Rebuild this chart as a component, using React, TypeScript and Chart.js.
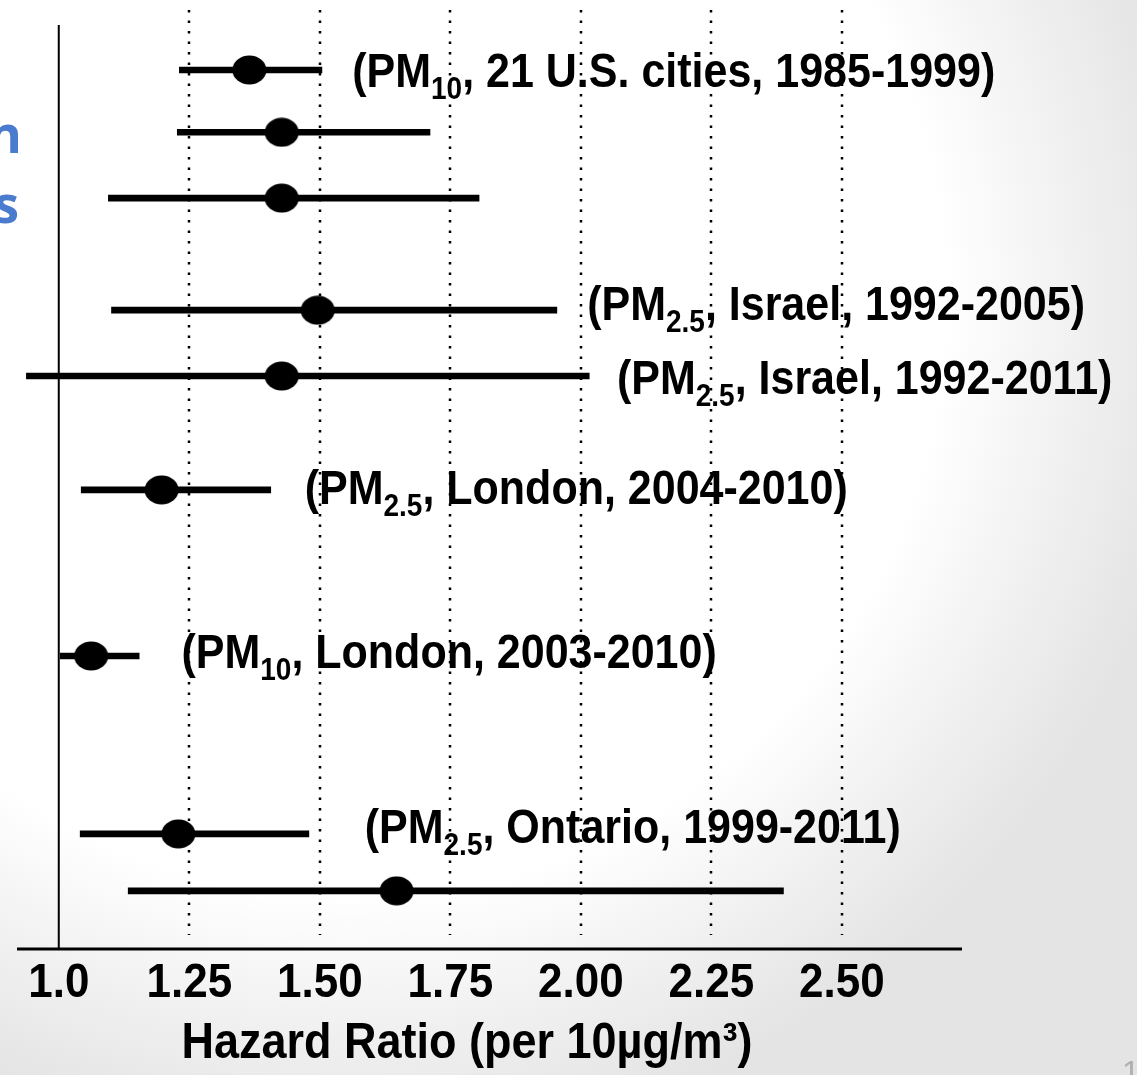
import React, { useEffect, useRef } from "react";
import { Chart, registerables } from "chart.js";

Chart.register(...registerables);

// ---------------- data ----------------
const hazardRatio = [1.365, 1.427, 1.427, 1.496, 1.427, 1.197, 1.062, 1.229, 1.647];
const ciLow = [1.231, 1.227, 1.095, 1.101, 0.938, 1.043, 1.003, 1.041, 1.133];
const ciHigh = [1.504, 1.711, 1.805, 1.954, 2.016, 1.406, 1.154, 1.479, 2.388];
const pollutant = ["10", "", "", "2.5", "2.5", "2.5", "10", "2.5", ""];
const studyDetail = [
  ", 21 U.S. cities, 1985-1999)",
  "",
  "",
  ", Israel, 1992-2005)",
  ", Israel, 1992-2011)",
  ", London, 2004-2010)",
  ", London, 2003-2010)",
  ", Ontario, 1999-2011)",
  "",
];
const tickValues = [1.0, 1.25, 1.5, 1.75, 2.0, 2.25, 2.5];
const tickLabels = ["1.0", "1.25", "1.50", "1.75", "2.00", "2.25", "2.50"];
const axisTitle = "Hazard Ratio (per 10µg/m³)";
const sideFragments = ["n", "s"];
const slideNumber = "1";

// ---------------- layout ----------------
const W = 1137;
const H = 1075;
const rowSlot = [1.18, 2.23, 3.34, 5.23, 6.34, 8.26, 11.06, 14.06, 15.02];
const labelStartHR = [1.562, null, null, 2.012, 2.069, 1.471, 1.235, 1.586, null];
const labelBaselineDy = [17, 0, 0, 10, 18, 14, 12, 9, 0];
const FONT = '"Liberation Sans", Arial, sans-serif';
const STRETCH = 1.1;

function makeEllipse(w: number, h: number): HTMLCanvasElement {
  const c = document.createElement("canvas");
  c.width = w;
  c.height = h;
  const g = c.getContext("2d")!;
  g.fillStyle = "#000";
  g.beginPath();
  g.ellipse(w / 2, h / 2, w / 2 - 0.5, h / 2 - 0.5, 0, 0, Math.PI * 2);
  g.fill();
  return c;
}

function drawStretched(ctx: CanvasRenderingContext2D, text: string, x: number, y: number, sy: number) {
  ctx.save();
  ctx.translate(x, y);
  ctx.scale(1, sy);
  ctx.fillText(text, 0, 0);
  ctx.restore();
}

export default function App() {
  const ref = useRef<HTMLCanvasElement>(null);

  useEffect(() => {
    document.body.style.margin = "0";
    const canvas = ref.current!;
    const marker = makeEllipse(35, 30);

    const decor = {
      id: "decor",
      beforeDraw(chart: any) {
        const ctx: CanvasRenderingContext2D = chart.ctx;
        ctx.save();
        const g = ctx.createRadialGradient(350, 300, 0, 350, 300, 850);
        g.addColorStop(0, "#ffffff");
        g.addColorStop(0.7, "#ffffff");
        g.addColorStop(0.85, "#f1f1f1");
        g.addColorStop(1, "#e4e4e4");
        ctx.fillStyle = g;
        ctx.fillRect(0, 0, W, H);
        ctx.restore();
      },
      beforeDatasetsDraw(chart: any) {
        const ctx: CanvasRenderingContext2D = chart.ctx;
        const xs = chart.scales.x;
        const ys = chart.scales.y;
        const area = chart.chartArea;
        ctx.save();
        ctx.fillStyle = "#000";
        ctx.textBaseline = "alphabetic";

        // study labels
        rowSlot.forEach((slot, i) => {
          const start = labelStartHR[i];
          if (start == null || !studyDetail[i]) return;
          let px = xs.getPixelForValue(start);
          const base = ys.getPixelForValue(slot) + labelBaselineDy[i];
          ctx.textAlign = "left";
          ctx.font = `bold 43px ${FONT}`;
          drawStretched(ctx, "(PM", px, base, STRETCH);
          px += ctx.measureText("(PM").width;
          ctx.font = `bold 28px ${FONT}`;
          drawStretched(ctx, pollutant[i], px, base + 12, STRETCH);
          px += ctx.measureText(pollutant[i]).width;
          ctx.font = `bold 43px ${FONT}`;
          drawStretched(ctx, studyDetail[i], px, base, STRETCH);
        });

        // dotted reference lines
        ctx.strokeStyle = "#000";
        ctx.lineWidth = 2.5;
        ctx.setLineDash([2.5, 8]);
        tickValues.forEach((v) => {
          if (v === 1) return;
          const px = Math.round(xs.getPixelForValue(v));
          ctx.beginPath();
          ctx.moveTo(px, 10);
          ctx.lineTo(px, 935);
          ctx.stroke();
        });
        ctx.setLineDash([]);

        // vertical line at HR = 1
        const x1 = xs.getPixelForValue(1);
        ctx.lineWidth = 2;
        ctx.beginPath();
        ctx.moveTo(x1, 25);
        ctx.lineTo(x1, area.bottom);
        ctx.stroke();

        // x axis
        ctx.lineWidth = 3;
        ctx.beginPath();
        ctx.moveTo(area.left, area.bottom);
        ctx.lineTo(area.right, area.bottom);
        ctx.stroke();

        // tick labels
        ctx.font = `bold 44px ${FONT}`;
        ctx.textAlign = "center";
        tickValues.forEach((v, i) => {
          drawStretched(ctx, tickLabels[i], xs.getPixelForValue(v), 997, STRETCH);
        });

        // axis title
        ctx.font = `bold 45px ${FONT}`;
        drawStretched(ctx, axisTitle, 467, 1058, STRETCH);

        // cut-off slide text on the left
        ctx.fillStyle = "#4a7bcf";
        ctx.textAlign = "right";
        ctx.font = `bold 52px "Open Sans", sans-serif`;
        ctx.fillText(sideFragments[0], 22, 153);
        ctx.fillText(sideFragments[1], 19, 223);

        // slide number
        ctx.fillStyle = "#b0b0b0";
        ctx.textAlign = "left";
        ctx.font = `32px ${FONT}`;
        ctx.fillText(slideNumber, 1122, 1083);
        ctx.restore();
      },
    };

    const chart = new Chart(canvas, {
      type: "scatter",
      data: {
        datasets: [
          {
            type: "scatter",
            label: "Hazard ratio",
            data: rowSlot.map((s, i) => ({ x: hazardRatio[i], y: s })),
            pointStyle: marker as any,
            pointRadius: 15,
            pointHoverRadius: 15,
            backgroundColor: "#000",
            borderColor: "#000",
            order: 0,
          } as any,
          {
            type: "bar",
            label: "95% CI",
            indexAxis: "y",
            data: rowSlot.map((s, i) => ({ x: [ciLow[i], ciHigh[i]], y: s })),
            backgroundColor: "#000",
            borderWidth: 0,
            barThickness: 6,
            order: 1,
          } as any,
        ],
      },
      options: {
        responsive: false,
        animation: false,
        devicePixelRatio: 1,
        events: [],
        layout: { autoPadding: false, padding: { left: 17, right: 175, top: 0, bottom: 126 } },
        scales: {
          x: { type: "linear", min: 0.92, max: 2.73, offset: false, display: false },
          y: { type: "linear", min: 0, max: 16, reverse: true, offset: false, display: false },
        },
        plugins: { legend: { display: false }, tooltip: { enabled: false } },
      },
      plugins: [decor],
    });

    return () => chart.destroy();
  }, []);

  return (
    <div style={{ width: W, height: H, position: "relative" }}>
      <canvas ref={ref} width={W} height={H} style={{ display: "block" }} />
    </div>
  );
}
